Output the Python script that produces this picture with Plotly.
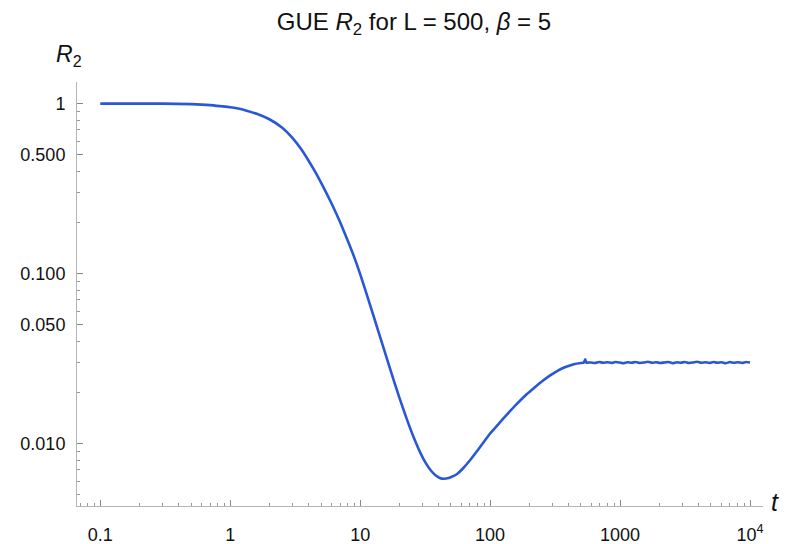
import plotly.graph_objects as go

# ---- data ----
t_vals = [0.1, 0.15, 0.2, 0.3, 0.5, 0.7, 0.85, 1.0, 1.15, 1.3, 1.6, 2.0, 2.5, 3.0, 3.5, 4.0,
          4.5, 5.0, 6.0, 7.0, 8.0, 9.0, 10, 12, 14, 17, 20, 23, 26, 29, 32, 35, 38, 41, 44, 48,
          52, 56, 62, 70, 80, 90, 100, 115, 134, 160, 191, 220, 250, 290, 330, 380, 440, 500,
          525, 540, 550, 575,
          600, 640, 690, 740, 800, 860, 920, 990, 1060, 1140, 1230, 1320, 1420, 1530, 1640,
          1760, 1900, 2040, 2190, 2360, 2540, 2730, 2930, 3150, 3390, 3640, 3920, 4210, 4530,
          4870, 5230, 5620, 6050, 6500, 6990, 7510, 8080, 8690, 9340, 10000]
r2_vals = [1.0, 1.0, 1.0, 0.999, 0.993, 0.980, 0.965, 0.952, 0.935, 0.915, 0.871,
           0.809, 0.724, 0.631, 0.542, 0.463, 0.398, 0.343, 0.260, 0.201, 0.157, 0.125,
           0.0993, 0.0644, 0.0442, 0.0275, 0.0187, 0.01374, 0.01074, 0.00885, 0.00767,
           0.00695, 0.00652, 0.00628, 0.00621, 0.00627, 0.00643, 0.00665, 0.00716, 0.00798,
           0.00912, 0.01028, 0.01146, 0.01295, 0.01475, 0.01705, 0.0195, 0.0214, 0.0232,
           0.0252, 0.0268, 0.0282, 0.0293, 0.0298, 0.0299, 0.0313, 0.0299, 0.0300,
           0.0300, 0.0298, 0.0302, 0.0299, 0.0301, 0.0298, 0.0302, 0.0300, 0.0297, 0.0301,
           0.0299, 0.0302, 0.0298, 0.0300, 0.0303, 0.0299, 0.0301, 0.0298, 0.0300, 0.0302,
           0.0297, 0.0301, 0.0299, 0.0302, 0.0298, 0.0300, 0.0303, 0.0299, 0.0301, 0.0298,
           0.0302, 0.0299, 0.0301, 0.0297, 0.0302, 0.0299, 0.0301, 0.0298, 0.0302, 0.0300]

x_major = [0.1, 1, 10, 100, 1000, 10000]
x_labels = ["0.1", "1", "10", "100", "1000", "10<sup>4</sup>"]
y_major = [0.01, 0.05, 0.1, 0.5, 1]
y_labels = ["0.010", "0.050", "0.100", "0.500", "1"]

x_minor = [m * d for d in [0.01, 0.1, 1, 10, 100, 1000] for m in range(2, 10) if 0.065 < m * d < 10000]
y_minor = [m * d for d in [0.001, 0.01, 0.1] for m in range(2, 10) if 0.0045 < m * d < 1]

LINE = "#2a57d6"
AXC = "#b5b5b5"
FONT = "Liberation Sans, Arial, sans-serif"

fig = go.Figure()
fig.add_trace(go.Scatter(x=t_vals, y=r2_vals, mode="lines",
                         line=dict(color=LINE, width=2.6, shape="spline", smoothing=0.5),
                         showlegend=False, hoverinfo="skip"))

fig.update_layout(
    width=787, height=544, autosize=False,
    margin=dict(l=77, r=24, t=82, b=38, autoexpand=False),
    paper_bgcolor="white", plot_bgcolor="white",
    font=dict(family=FONT, color="#111111"),
    title=dict(text="GUE <i>R</i><sub>2</sub> for L = 500, <i>β</i> = 5",
               x=414 / 787, xref="container", xanchor="center",
               y=1 - 22 / 544, yref="container", yanchor="middle",
               font=dict(size=24, family=FONT, color="#111111")),
    xaxis=dict(type="log", range=[-1.179, 4.1], showgrid=False, zeroline=False,
               automargin=False,
               showline=True, linecolor=AXC, linewidth=1,
               ticks="inside", ticklen=6, tickcolor="#888888", tickwidth=1,
               tickmode="array", tickvals=x_major, ticktext=x_labels,
               ticklabelstandoff=12,
               tickfont=dict(size=18, family=FONT, color="#111111"),
               minor=dict(ticks="inside", ticklen=3, tickcolor="#999999",
                          tickmode="array", tickvals=x_minor, showgrid=False)),
    yaxis=dict(type="log", range=[-2.367, 0.127], showgrid=False, zeroline=False,
               automargin=False,
               showline=True, linecolor=AXC, linewidth=1,
               ticks="inside", ticklen=6, tickcolor="#888888", tickwidth=1,
               tickmode="array", tickvals=y_major, ticktext=y_labels,
               ticklabelstandoff=7,
               tickfont=dict(size=18, family=FONT, color="#111111"),
               minor=dict(ticks="inside", ticklen=3, tickcolor="#999999",
                          tickmode="array", tickvals=y_minor, showgrid=False)),
)

fig.add_annotation(text="<i>R</i><sub>2</sub>", xref="paper", yref="paper",
                   x=(69 - 77) / 686, y=1 + (82 - 56) / 424, showarrow=False,
                   xanchor="center", yanchor="middle",
                   font=dict(size=23, family=FONT, color="#111111"))
fig.add_annotation(text="<i>t</i>", xref="paper", yref="paper",
                   x=(775 - 77) / 686, y=(505.7 - 502) / 424, showarrow=False,
                   xanchor="center", yanchor="middle",
                   font=dict(size=25, family=FONT, color="#111111"))

fig.write_html("out.html")
